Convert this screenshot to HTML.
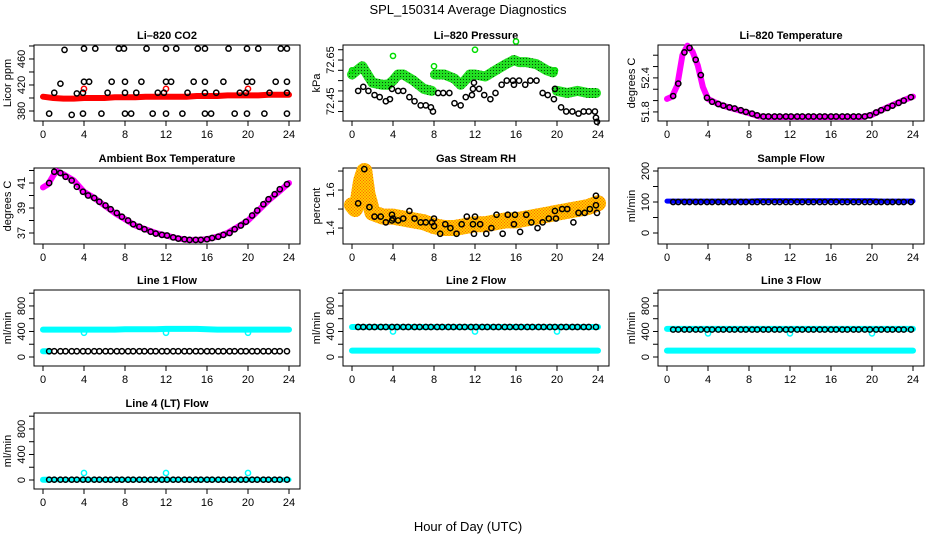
<!DOCTYPE html>
<html><head><meta charset="utf-8"><title>SPL_150314 Average Diagnostics</title>
<style>
html,body{margin:0;padding:0;background:#fff;}
svg{display:block;font-family:"Liberation Sans",sans-serif;}
</style></head>
<body>
<svg id="chart" width="936" height="540" viewBox="0 0 936 540">
<defs>
<pattern id="rhPat" width="3" height="3" patternUnits="userSpaceOnUse"><rect width="3" height="3" fill="#ffcc00"/><rect x="0" y="0" width="1" height="1" fill="#ff6600"/><rect x="1.5" y="1.5" width="1" height="1" fill="#ff3300"/></pattern>
<pattern id="grPat" width="3" height="3" patternUnits="userSpaceOnUse"><rect width="3" height="3" fill="#22e022"/><rect x="1" y="1" width="1" height="1" fill="#0a4a0a"/></pattern>
</defs>
<text x="468" y="14" text-anchor="middle" font-size="13">SPL_150314  Average Diagnostics</text>
<text x="468" y="531" text-anchor="middle" font-size="13">Hour of Day (UTC)</text>
</svg>
<script>
// ---- shared data ----
const xTicks = [0,4,8,12,16,20,24];
const sampleHours = [0.6,1.1,1.7,2.2,2.8,3.3,3.9,4.4,5.0,5.5,6.1,6.6,7.2,7.7,8.3,8.8,9.4,9.9,10.5,11.0,11.6,12.1,12.7,13.2,13.8,14.3,14.9,15.4,16.0,16.5,17.1,17.6,18.2,18.7,19.3,19.8,20.4,20.9,21.5,22.0,22.6,23.1,23.8];
const bandHours = [0,1,2,3,4,5,6,7,8,9,10,11,12,13,14,15,16,17,18,19,20,21,22,23,24];
const outlierHours = [4,12,20];

// CO2
const co2RedV = [402,400,399,399,400,400,400,401,401,401,402,402,402,402,402,403,403,403,404,404,404,404,405,405,405];
const co2RedOutV = [414,414,414];
const co2TopH = [2.1,4,5.1,7.4,7.9,10.1,12,13,15.1,15.8,18.1,19.9,21,23.2,23.8];
const co2TopV = [474,476,476,476,476,476,476,476,476,476,476,476,476,476,476];
const co2MidH = [1.7,4,4.5,6.7,8,9.6,12,12.5,14.7,15.8,17.6,19.9,20.4,22.7,23.8];
const co2MidV = [422,425,425,425,425,425,425,425,425,425,425,425,425,425,425];
const co2LowH = [1.1,3.3,3.9,6.3,8,9.1,11.2,11.8,14.1,15.8,16.9,19.2,19.8,22.1,23.8];
const co2LowV = [408,407,408,408,408,408,408,408,408,408,408,408,408,408,408];
const co2BotH = [0.6,2.8,3.9,5.7,8,8.6,10.7,12,13.6,15.8,16.4,18.7,19.9,21.6,23.8];
const co2BotV = [376,374,376,376,376,376,376,376,376,376,376,376,376,376,376];

// Pressure
const presGreenH = [0,0.5,1,1.5,2,3,3.5,4,4.5,5,6,7,7.8,null,8.1,9,10,10.6,11,11.5,12,13,14,15,15.8,16.3,17,18,19,19.6,null,20,21,22,23,23.8];
const presGreenV = [72.58,72.60,72.62,72.58,72.54,72.53,72.53,72.55,72.58,72.58,72.55,72.51,72.50,null,72.58,72.58,72.56,72.53,72.55,72.58,72.58,72.57,72.60,72.63,72.65,72.64,72.64,72.63,72.60,72.59,null,72.50,72.49,72.50,72.49,72.49];
const presGreenOutH = [0,4,8,12,16,19.8];
const presGreenOutV = [72.60,72.67,72.62,72.70,72.74,72.60];
const presBlackH = [0.6,1.1,1.6,2.2,2.7,3.3,3.7,3.9,4.5,5.0,5.6,6.1,6.7,7.2,7.7,7.9,8.4,8.9,9.5,10.0,10.6,11.1,11.7,11.8,11.9,12.4,12.9,13.5,14.0,14.6,15.1,15.7,15.8,16.3,16.9,17.4,18.0,18.6,19.1,19.7,19.8,20.4,20.9,21.5,22.1,22.6,23.1,23.7,23.8,23.9];
const presBlackV = [72.50,72.52,72.50,72.48,72.47,72.45,72.46,72.51,72.50,72.50,72.47,72.45,72.43,72.43,72.42,72.40,72.49,72.49,72.49,72.44,72.43,72.47,72.48,72.51,72.54,72.51,72.48,72.46,72.49,72.53,72.55,72.55,72.53,72.55,72.53,72.55,72.55,72.49,72.48,72.46,72.51,72.42,72.40,72.40,72.39,72.40,72.40,72.40,72.37,72.35];

// Li-820 Temperature
const tempCurveH = [0,0.5,1,1.5,2,2.5,3,3.5,4,5,6,7,8,9,10,12,14,16,18,19,20,21,22,23,24];
const tempCurveV = [52.03,52.07,52.27,52.80,52.97,52.86,52.62,52.24,52.03,51.94,51.88,51.83,51.78,51.72,51.71,51.71,51.71,51.71,51.71,51.71,51.75,51.84,51.92,52.00,52.07];
const tempBlackV = [52.08,52.30,52.85,52.93,52.72,52.45,52.05,51.98,51.94,51.91,51.88,51.86,51.83,51.80,51.77,51.74,51.72,51.72,51.72,51.72,51.72,51.72,51.72,51.72,51.72,51.72,51.72,51.72,51.72,51.72,51.72,51.72,51.72,51.72,51.72,51.74,51.79,51.83,51.87,51.91,51.96,52.00,52.06];

// Ambient Box Temperature
const ambCurveH = [0,0.5,1,1.3,2,3,4,5,6,7,8,9,10,11,12,13,14,15,16,17,18,19,20,21,22,23,24];
const ambCurveV = [40.65,40.9,41.6,41.95,41.7,41.2,40.3,39.8,39.2,38.6,38.1,37.6,37.3,37.0,36.8,36.6,36.45,36.45,36.5,36.7,37.0,37.5,38.0,38.8,39.6,40.3,41.0];
const ambBlackV = [41.0,41.9,41.8,41.5,41.2,40.7,40.3,40.0,39.8,39.5,39.2,38.9,38.6,38.3,38.0,37.7,37.5,37.3,37.1,36.95,36.85,36.8,36.65,36.55,36.5,36.45,36.45,36.45,36.5,36.6,36.7,36.85,37.0,37.3,37.6,37.9,38.4,38.8,39.3,39.7,40.1,40.5,40.9];

// Gas stream RH
const rhBandH = [0,0.3,0.6,0.9,1.2,1.5,2,3,4,5,6,7,8,9,10,11,12,13,14,15,16,17,18,19,20,21,22,23,24];
const rhBandV = [1.52,1.50,1.55,1.65,1.70,1.58,1.48,1.46,1.46,1.45,1.44,1.43,1.41,1.40,1.40,1.41,1.42,1.42,1.43,1.44,1.44,1.45,1.46,1.47,1.48,1.49,1.50,1.51,1.53];
const rhBlackH = [0.6,1.2,1.7,2.2,2.8,3.3,3.9,3.9,4.0,4.5,5.0,5.6,6.1,6.7,7.2,7.8,8.0,8.0,8.6,9.1,9.6,10.2,10.7,11.2,11.8,11.9,12.0,12.5,13.1,13.6,14.1,14.7,15.2,15.8,15.9,16.4,17.0,17.5,18.1,18.6,19.2,19.8,19.9,20.5,21.0,21.6,22.1,22.7,23.2,23.8,23.8,23.9];
const rhBlackV = [1.53,1.71,1.51,1.46,1.46,1.43,1.44,1.47,1.45,1.44,1.45,1.49,1.45,1.43,1.43,1.43,1.41,1.45,1.37,1.42,1.40,1.37,1.42,1.46,1.42,1.37,1.46,1.42,1.37,1.40,1.47,1.37,1.47,1.42,1.47,1.38,1.47,1.43,1.40,1.43,1.45,1.49,1.45,1.50,1.50,1.43,1.48,1.48,1.50,1.52,1.57,1.48];

// Flows
const sampleBlueV = [103,103,103,103,103,103,103,103,103,104,104,104,104,104,104,104,104,104,104,104,104,103,103,103,103];
const sampleBlackV = [100,100,100,100,100,100,100,100,100,100,100,100,100,100,100,100,100,100,100,100,100,100,100,100,100,100,100,100,100,100,100,100,100,100,100,100,100,100,100,100,100,100,100];
const line1HighV = [430,430,430,430,430,430,430,430,435,435,435,435,440,440,440,440,435,430,430,430,430,430,430,430,430];
const line1LowV = [90,90,90,90,90,90,90,90,90,90,90,90,90,90,90,90,90,90,90,90,90,90,90,90,90,90,90,90,90,90,90,90,90,90,90,90,90,90,90,90,90,90,90];
const line1OutV = [380,380,380];
const line2HighV = [470,470,470,470,470,470,470,470,470,470,470,470,470,470,470,470,470,470,470,470,470,470,470,470,470];
const line2LowV = [100,100,100,100,100,100,100,100,100,100,100,100,100,100,100,100,100,100,100,100,100,100,100,100,100];
const line2BlackV = [470,470,470,470,470,470,470,470,470,470,470,470,470,470,470,470,470,470,470,470,470,470,470,470,470,470,470,470,470,470,470,470,470,470,470,470,470,470,470,470,470,470,470];
const line2OutV = [400,400,400];
const line3HighV = [440,440,440,440,440,440,440,440,440,440,440,440,440,440,440,440,440,440,440,440,440,440,440,440,440];
const line3LowV = [100,100,100,100,100,100,100,100,100,100,100,100,100,100,100,100,100,100,100,100,100,100,100,100,100];
const line3BlackV = [430,430,430,430,430,430,430,430,430,430,430,430,430,430,430,430,430,430,430,430,430,430,430,430,430,430,430,430,430,430,430,430,430,430,430,430,430,430,430,430,430,430,430];
const line3OutV = [370,370,370];
const line4BlackV = [5,5,5,5,5,5,5,5,5,5,5,5,5,5,5,5,5,5,5,5,5,5,5,5,5,5,5,5,5,5,5,5,5,5,5,5,5,5,5,5,5,5,5];
const line4StartH = [0,0.5];
const line4StartV = [5,5];
const line4OutV = [110,110,110];

// ---- drawing ----
const svg = document.getElementById('chart');
const NS = 'http://www.w3.org/2000/svg';
const boxX = [34,343,658], boxY = [45,168,290,413], BW = 266, BH = 76;
function mk(tag, attrs, parent){ const e=document.createElementNS(NS,tag); for(const k in attrs) e.setAttribute(k,attrs[k]); (parent||svg).appendChild(e); return e; }

function makePanel(col,row,title,ylab,vTop,vBot,yTicks,yLabels,name){
  const x0=boxX[col], y0=boxY[row];
  const g=mk('g',{});
  
  
  const p={g,x:h=>x0+9+h*246/24,y:v=>y0+(vTop-v)/(vTop-vBot)*BH};
  const t=mk('text',{x:x0+BW/2,y:y0-6,'text-anchor':'middle','font-size':11,'font-weight':'bold'},g);
  t.textContent=title;
  
  
  const b=mk('rect',{x:x0,y:y0,width:BW,height:BH,fill:'none',stroke:'#000','stroke-width':1},g);
  
  
  xTicks.forEach(h=>{
    mk('line',{x1:p.x(h),x2:p.x(h),y1:y0+BH,y2:y0+BH+5,stroke:'#000'},g);
    const l=mk('text',{x:p.x(h),y:y0+BH+17,'text-anchor':'middle','font-size':11},g);
    l.textContent=h;
    
    
  });
  yTicks.forEach(v=>{ mk('line',{x1:x0-5,x2:x0,y1:p.y(v),y2:p.y(v),stroke:'#000'},g); });
  yLabels.forEach(v=>{
    const l=mk('text',{x:0,y:0,'text-anchor':'middle','font-size':11,transform:`translate(${x0-9},${p.y(v)}) rotate(-90)`},g);
    l.textContent=v;
    
    
  });
  const yl=mk('text',{x:0,y:0,'text-anchor':'middle','font-size':11,transform:`translate(${x0-23},${y0+BH/2}) rotate(-90)`},g);
  yl.textContent=ylab;
  
  
  return p;
}
function band(p,hs,vs,color,w,name){
  let seg=[];
  const flush=()=>{ if(seg.length){ const pl=mk('polyline',{points:seg.join(' '),fill:'none',stroke:color,'stroke-width':w,'stroke-linejoin':'round','stroke-linecap':'round'},p.g);
    
    
    seg=[]; } };
  hs.forEach((h,i)=>{ if(h===null||vs[i]===null){flush();} else seg.push(p.x(h).toFixed(1)+','+p.y(vs[i]).toFixed(1)); });
  flush();
}
function pts(p,hs,vs,color,name){
  hs.forEach((h,i)=>{
    const c=mk('circle',{cx:p.x(h),cy:p.y(vs[i]),r:2.6,fill:'none',stroke:color,'stroke-width':1.5},p.g);
    
    
  });
}

// Row 1
let p=makePanel(0,0,'Li\u2013820 CO2','Licor ppm',481.5,364.6,[380,400,420,440,460,480],[380,420,460],'co2-panel');
band(p,bandHours,co2RedV,'#ff0000',6,'co2-band');
pts(p,outlierHours,co2RedOutV,'#ff0000','co2-red-point');
pts(p,co2TopH,co2TopV,'#000','co2-black-point');
pts(p,co2MidH,co2MidV,'#000','co2-black-point');
pts(p,co2LowH,co2LowV,'#000','co2-black-point');
pts(p,co2BotH,co2BotV,'#000','co2-black-point');

p=makePanel(1,0,'Li\u2013820 Pressure','kPa',72.723,72.354,[72.40,72.45,72.50,72.55,72.60,72.65,72.70],['72.45','72.65'],'pressure-panel');
band(p,presGreenH,presGreenV,'url(#grPat)',10,'pressure-band');
pts(p,presGreenOutH,presGreenOutV,'#00dd00','pressure-green-point');
pts(p,presBlackH,presBlackV,'#000','pressure-black-point');

p=makePanel(2,0,'Li\u2013820 Temperature','degrees C',52.98,51.64,[51.8,52.0,52.2,52.4,52.6,52.8],['51.8','52.4'],'li820-temp-panel');
band(p,tempCurveH,tempCurveV,'#ff00ff',6,'temp-band');
pts(p,sampleHours,tempBlackV,'#000','temp-black-point');

// Row 2
p=makePanel(0,1,'Ambient Box Temperature','degrees C',42.2,36.12,[37,38,39,40,41,42],[37,39,41],'ambient-temp-panel');
band(p,ambCurveH,ambCurveV,'#ff00ff',6,'ambient-band');
pts(p,sampleHours,ambBlackV,'#000','ambient-black-point');

p=makePanel(1,1,'Gas Stream RH','percent',1.716,1.316,[1.4,1.5,1.6,1.7],['1.4','1.6'],'rh-panel');
band(p,rhBandH,rhBandV,'url(#rhPat)',16,'rh-band');
pts(p,rhBlackH,rhBlackV,'#000','rh-black-point');

p=makePanel(2,1,'Sample Flow','ml/min',209.7,-35.5,[0,50,100,150,200],[0,100,200],'sample-flow-panel');
band(p,bandHours,sampleBlueV,'#0000ff',5,'sample-flow-band');
pts(p,sampleHours,sampleBlackV,'#000','sample-flow-black-point');

// Row 3
const flowTicks=[0,200,400,600,800,1000], flowLabels=[0,400,800];
p=makePanel(0,2,'Line 1 Flow','ml/min',1050,-141,flowTicks,flowLabels,'line1-panel');
band(p,bandHours,line1HighV,'#00ffff',6,'line1-high-band');
band(p,line4StartH,[90,90],'#00ffff',6,'line1-low-start');
pts(p,outlierHours,line1OutV,'#00ffff','line1-outlier');
pts(p,sampleHours,line1LowV,'#000','line1-black-point');

p=makePanel(1,2,'Line 2 Flow','ml/min',1050,-141,flowTicks,flowLabels,'line2-panel');
band(p,bandHours,line2HighV,'#00ffff',6,'line2-high-band');
band(p,bandHours,line2LowV,'#00ffff',6,'line2-low-band');
pts(p,outlierHours,line2OutV,'#00ffff','line2-outlier');
pts(p,sampleHours,line2BlackV,'#000','line2-black-point');

p=makePanel(2,2,'Line 3 Flow','ml/min',1050,-141,flowTicks,flowLabels,'line3-panel');
band(p,bandHours,line3HighV,'#00ffff',6,'line3-high-band');
band(p,bandHours,line3LowV,'#00ffff',6,'line3-low-band');
pts(p,outlierHours,line3OutV,'#00ffff','line3-outlier');
pts(p,sampleHours,line3BlackV,'#000','line3-black-point');

// Row 4
p=makePanel(0,3,'Line 4 (LT) Flow','ml/min',1050,-141,flowTicks,flowLabels,'line4-panel');
band(p,bandHours,line4BlackV.slice(0,25),'#00ffff',5,'line4-band');
band(p,line4StartH,line4StartV,'#00ffff',6,'line4-start');
pts(p,outlierHours,line4OutV,'#00ffff','line4-outlier');
pts(p,sampleHours,line4BlackV,'#000','line4-black-point');
</script>
</body></html>
